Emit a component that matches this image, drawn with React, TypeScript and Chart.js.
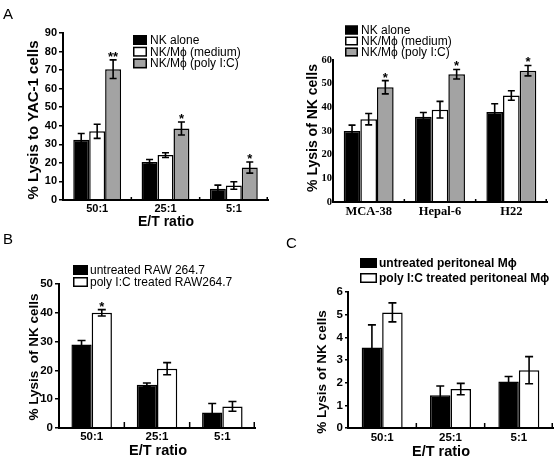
import React, { useEffect, useRef } from "react";
import { Chart, registerables } from "chart.js";

Chart.register(...registerables);

const PAGE_W = 558;
const PAGE_H = 461;
const SANS = "'Liberation Sans', Arial, sans-serif";
const SERIF = "'Liberation Serif', 'Times New Roman', serif";
const BLACK = "#000000";
const WHITE = "#ffffff";
const GRAY = "#a3a3a3";

// ---------- Panel A (left): lysis of YAC-1 cells ----------
const aCategories = ["50:1", "25:1", "5:1"];
const aYTicks = [0, 10, 20, 30, 40, 50, 60, 70, 80, 90];
const aLabels = ["NK alone", "NK/Mϕ (medium)", "NK/Mϕ (poly I:C)"];
const aNkAlone = [32.5, 20.5, 6];
const aNkAloneErr = [3.3, 1.3, 2];
const aMedium = [37, 24.2, 7.8];
const aMediumErr = [3.8, 1.3, 2];
const aPoly = [70.5, 38.5, 17.5];
const aPolyErr = [5, 3.5, 3];
const aPolyStars = ["**", "*", "*"];

// ---------- Panel A (right): lysis of tumour lines ----------
const arCategories = ["MCA-38", "Hepal-6", "H22"];
const arYTicks = [0, 10, 20, 30, 40, 50, 60];
const arNkAlone = [30, 36, 38];
const arNkAloneErr = [2.5, 1.8, 3.5];
const arMedium = [35, 39, 45];
const arMediumErr = [2.4, 3.5, 2];
const arPoly = [48.5, 54, 55.5];
const arPolyErr = [2.8, 2, 2.2];
const arPolyStars = ["*", "*", "*"];

// ---------- Panel B: RAW 264.7 ----------
const bCategories = ["50:1", "25:1", "5:1"];
const bYTicks = [0, 10, 20, 30, 40, 50];
const bLabels = ["untreated RAW 264.7", "poly I:C treated RAW264.7"];
const bUntreated = [29, 15, 5.4];
const bUntreatedErr = [1.4, 0.6, 3.1];
const bPoly = [40, 20.6, 7.5];
const bPolyErr = [1.1, 2.1, 1.7];
const bPolyStars = ["*", "", ""];

// ---------- Panel C: peritoneal macrophages ----------
const cCategories = ["50:1", "25:1", "5:1"];
const cYTicks = [0, 1, 2, 3, 4, 5, 6];
const cLabels = ["untreated peritoneal Mϕ", "poly I:C treated peritoneal Mϕ"];
const cUntreated = [3.55, 1.45, 2.05];
const cUntreatedErr = [1.0, 0.4, 0.22];
const cPoly = [5.1, 1.72, 2.55];
const cPolyErr = [0.42, 0.25, 0.6];

type Series = { label: string; values: number[]; errors: number[]; fill: string; stars?: string[] };
type Font = { family: string; size: number; weight?: string };
type Spec = {
  categories: string[];
  yTicks: number[];
  series: Series[];
  yTitle: string;
  xTitle?: string;
  area: { left: number; right: number; top: number; bottom: number };
  yAxisLeft: number;
  xAxisBottom: number;
  catPct: number;
  yTickFont: Font;
  xTickFont: Font;
  yTitleFont: Font;
  xTitleFont: Font;
  yTitleAt: [number, number];
  xTitleAt: [number, number];
  xTickPad: number;
  yTickLen: number;
  yTickPad: number;
  legend: { x: number; y: number; boxW: number; boxH: number; gap: number; rowH: number; font: Font };
  innerTick: number;
  cap: number;
};

const fontStr = (f: Font) => `${f.weight || "normal"} ${f.size}px ${f.family}`;

const specs: Spec[] = [
  {
    categories: aCategories,
    yTicks: aYTicks,
    series: [
      { label: aLabels[0], values: aNkAlone, errors: aNkAloneErr, fill: BLACK },
      { label: aLabels[1], values: aMedium, errors: aMediumErr, fill: WHITE },
      { label: aLabels[2], values: aPoly, errors: aPolyErr, fill: GRAY, stars: aPolyStars },
    ],
    yTitle: "% Lysis to YAC-1 cells",
    xTitle: "E/T ratio",
    area: { left: 63, right: 268, top: 33, bottom: 200 },
    yAxisLeft: 24,
    xAxisBottom: 226,
    catPct: 0.7,
    yTickFont: { family: SANS, size: 11, weight: "bold" },
    xTickFont: { family: SANS, size: 11, weight: "bold" },
    yTitleFont: { family: SANS, size: 15, weight: "bold" },
    xTitleFont: { family: SANS, size: 14, weight: "bold" },
    yTitleAt: [33.5, 120],
    xTitleAt: [166, 222],
    xTickPad: 2,
    yTickLen: 4,
    yTickPad: 2,
    legend: { x: 133, y: 35, boxW: 14, boxH: 10, gap: 3, rowH: 11.7, font: { family: SANS, size: 12 } },
    innerTick: 3,
    cap: 3.5,
  },
  {
    categories: arCategories,
    yTicks: arYTicks,
    series: [
      { label: aLabels[0], values: arNkAlone, errors: arNkAloneErr, fill: BLACK },
      { label: aLabels[1], values: arMedium, errors: arMediumErr, fill: WHITE },
      { label: aLabels[2], values: arPoly, errors: arPolyErr, fill: GRAY, stars: arPolyStars },
    ],
    yTitle: "% Lysis of NK cells",
    area: { left: 333, right: 547, top: 60, bottom: 202 },
    yAxisLeft: 305,
    xAxisBottom: 222,
    catPct: 0.7,
    yTickFont: { family: SERIF, size: 10.5, weight: "bold" },
    xTickFont: { family: SERIF, size: 12.5, weight: "bold" },
    yTitleFont: { family: SANS, size: 14, weight: "bold" },
    xTitleFont: { family: SANS, size: 14, weight: "bold" },
    yTitleAt: [313.5, 128],
    xTitleAt: [0, 0],
    xTickPad: 2,
    yTickLen: 0,
    yTickPad: 1,
    legend: { x: 345, y: 25.5, boxW: 13, boxH: 9, gap: 3, rowH: 11, font: { family: SANS, size: 12 } },
    innerTick: 3,
    cap: 3.5,
  },
  {
    categories: bCategories,
    yTicks: bYTicks,
    series: [
      { label: bLabels[0], values: bUntreated, errors: bUntreatedErr, fill: BLACK },
      { label: bLabels[1], values: bPoly, errors: bPolyErr, fill: WHITE, stars: bPolyStars },
    ],
    yTitle: "% Lysis  of NK cells",
    xTitle: "E/T ratio",
    area: { left: 59, right: 255, top: 284, bottom: 428 },
    yAxisLeft: 24,
    xAxisBottom: 458,
    catPct: 0.62,
    yTickFont: { family: SANS, size: 11.5, weight: "bold" },
    xTickFont: { family: SANS, size: 11.5, weight: "bold" },
    yTitleFont: { family: SANS, size: 13.5, weight: "bold" },
    xTitleFont: { family: SANS, size: 14.5, weight: "bold" },
    yTitleAt: [34, 357],
    xTitleAt: [158, 451],
    xTickPad: 2,
    yTickLen: 4,
    yTickPad: 2,
    legend: { x: 73, y: 265, boxW: 15, boxH: 10, gap: 2, rowH: 12, font: { family: SANS, size: 12 } },
    innerTick: 6,
    cap: 4,
  },
  {
    categories: cCategories,
    yTicks: cYTicks,
    series: [
      { label: cLabels[0], values: cUntreated, errors: cUntreatedErr, fill: BLACK },
      { label: cLabels[1], values: cPoly, errors: cPolyErr, fill: WHITE },
    ],
    yTitle: "% Lysis of NK cells",
    xTitle: "E/T ratio",
    area: { left: 348, right: 553, top: 292, bottom: 428 },
    yAxisLeft: 309,
    xAxisBottom: 456,
    catPct: 0.6,
    yTickFont: { family: SANS, size: 11.5, weight: "bold" },
    xTickFont: { family: SANS, size: 11.5, weight: "bold" },
    yTitleFont: { family: SANS, size: 13.5, weight: "bold" },
    xTitleFont: { family: SANS, size: 14.5, weight: "bold" },
    yTitleAt: [322, 372],
    xTitleAt: [441, 451.5],
    xTickPad: 3,
    yTickLen: 3,
    yTickPad: 2,
    legend: { x: 360, y: 258, boxW: 17, boxH: 10, gap: 2, rowH: 15, font: { family: SANS, size: 12, weight: "bold" } },
    innerTick: 5,
    cap: 4,
  },
];

function makeDecor(spec: Spec) {
  return {
    id: "decor",
    afterDatasetsDraw(chart: any) {
      const ctx: CanvasRenderingContext2D = chart.ctx;
      const y = chart.scales.y;
      ctx.save();
      chart.data.datasets.forEach((ds: any, i: number) => {
        const s = spec.series[i];
        const meta = chart.getDatasetMeta(i);
        meta.data.forEach((bar: any, j: number) => {
          const v = ds.data[j];
          const e = s.errors[j];
          const top = y.getPixelForValue(v + e);
          const bot = y.getPixelForValue(Math.max(0, v - e));
          ctx.strokeStyle = BLACK;
          ctx.lineWidth = 1.6;
          ctx.beginPath();
          ctx.moveTo(bar.x, top);
          ctx.lineTo(bar.x, bot);
          ctx.moveTo(bar.x - spec.cap, top);
          ctx.lineTo(bar.x + spec.cap, top);
          ctx.moveTo(bar.x - spec.cap, bot);
          ctx.lineTo(bar.x + spec.cap, bot);
          ctx.stroke();
          const star = s.stars ? s.stars[j] : "";
          if (star) {
            ctx.fillStyle = BLACK;
            ctx.font = fontStr({ family: SANS, size: 13, weight: "bold" });
            ctx.textAlign = "center";
            ctx.textBaseline = "alphabetic";
            ctx.fillText(star, bar.x, top + 1);
          }
        });
      });
      ctx.restore();
    },
    afterDraw(chart: any) {
      const ctx: CanvasRenderingContext2D = chart.ctx;
      const ca = chart.chartArea;
      ctx.save();
      // inner tick marks at category boundaries
      const n = spec.categories.length;
      ctx.strokeStyle = BLACK;
      ctx.lineWidth = 1.5;
      ctx.beginPath();
      for (let i = 1; i <= n; i++) {
        const x = ca.left + ((ca.right - ca.left) * i) / n - (i === n ? 0.75 : 0);
        ctx.moveTo(x, ca.bottom);
        ctx.lineTo(x, ca.bottom - spec.innerTick);
      }
      ctx.stroke();
      // axis titles
      ctx.fillStyle = BLACK;
      ctx.textAlign = "center";
      ctx.textBaseline = "middle";
      ctx.font = fontStr(spec.yTitleFont);
      ctx.save();
      ctx.translate(spec.yTitleAt[0], spec.yTitleAt[1]);
      ctx.rotate(-Math.PI / 2);
      ctx.fillText(spec.yTitle, 0, 0);
      ctx.restore();
      if (spec.xTitle) {
        ctx.font = fontStr(spec.xTitleFont);
        ctx.fillText(spec.xTitle, spec.xTitleAt[0], spec.xTitleAt[1]);
      }
      // legend
      const lg = spec.legend;
      ctx.font = fontStr(lg.font);
      ctx.textAlign = "left";
      ctx.textBaseline = "middle";
      spec.series.forEach((s, i) => {
        const yTop = lg.y + i * lg.rowH;
        ctx.fillStyle = s.fill;
        ctx.fillRect(lg.x, yTop, lg.boxW, lg.boxH);
        ctx.strokeStyle = BLACK;
        ctx.lineWidth = 1.5;
        ctx.strokeRect(lg.x + 0.75, yTop + 0.75, lg.boxW - 1.5, lg.boxH - 1.5);
        ctx.fillStyle = BLACK;
        ctx.fillText(s.label, lg.x + lg.boxW + lg.gap, yTop + lg.boxH / 2 + 0.5);
      });
      ctx.restore();
    },
  };
}

function makeConfig(spec: Spec): any {
  const step = spec.yTicks[1] - spec.yTicks[0];
  const a = spec.area;
  return {
    type: "bar",
    data: {
      labels: spec.categories,
      datasets: spec.series.map((s) => ({
        label: s.label,
        data: s.values,
        backgroundColor: s.fill,
        borderColor: BLACK,
        borderWidth: 1.5,
        categoryPercentage: spec.catPct,
        barPercentage: 1,
      })),
    },
    options: {
      responsive: false,
      animation: false,
      events: [],
      layout: {
        padding: {
          left: spec.yAxisLeft,
          right: PAGE_W - a.right,
          top: a.top,
          bottom: PAGE_H - spec.xAxisBottom,
        },
      },
      plugins: { legend: { display: false }, tooltip: { enabled: false } },
      scales: {
        x: {
          type: "category",
          offset: true,
          grid: { display: false, drawTicks: false },
          border: { display: true, color: BLACK, width: 2, z: 1 },
          ticks: { color: BLACK, font: spec.xTickFont, padding: spec.xTickPad, maxRotation: 0, autoSkip: false },
          title: { display: false },
          afterFit: (s: any) => {
            s.height = spec.xAxisBottom - a.bottom;
          },
        },
        y: {
          min: spec.yTicks[0],
          max: spec.yTicks[spec.yTicks.length - 1],
          grid: {
            display: true,
            drawOnChartArea: false,
            drawTicks: spec.yTickLen > 0,
            tickLength: spec.yTickLen,
            color: BLACK,
            lineWidth: 1.5,
          },
          border: { display: true, color: BLACK, width: 2, z: 1 },
          ticks: { stepSize: step, color: BLACK, font: spec.yTickFont, padding: spec.yTickPad },
          title: { display: false },
          afterFit: (s: any) => {
            s.width = a.left - spec.yAxisLeft;
          },
        },
      },
    },
    plugins: [makeDecor(spec)],
  };
}

function Panel({ spec }: { spec: Spec }) {
  const ref = useRef<HTMLCanvasElement>(null);
  useEffect(() => {
    const chart = new Chart(ref.current as HTMLCanvasElement, makeConfig(spec));
    return () => chart.destroy();
  }, [spec]);
  return (
    <canvas
      ref={ref}
      width={PAGE_W}
      height={PAGE_H}
      style={{ position: "absolute", left: 0, top: 0, width: PAGE_W, height: PAGE_H }}
    />
  );
}

const letterStyle = (left: number, top: number): React.CSSProperties => ({
  position: "absolute",
  left,
  top,
  fontFamily: SANS,
  fontSize: 15,
  lineHeight: "15px",
  color: BLACK,
});

export default function App() {
  return (
    <div
      style={{
        position: "fixed",
        left: 0,
        top: 0,
        width: PAGE_W,
        height: PAGE_H,
        background: WHITE,
        overflow: "hidden",
      }}
    >
      {specs.map((s, i) => (
        <Panel key={i} spec={s} />
      ))}
      <div style={letterStyle(3, 6)}>A</div>
      <div style={letterStyle(3, 231)}>B</div>
      <div style={letterStyle(286, 235)}>C</div>
    </div>
  );
}
